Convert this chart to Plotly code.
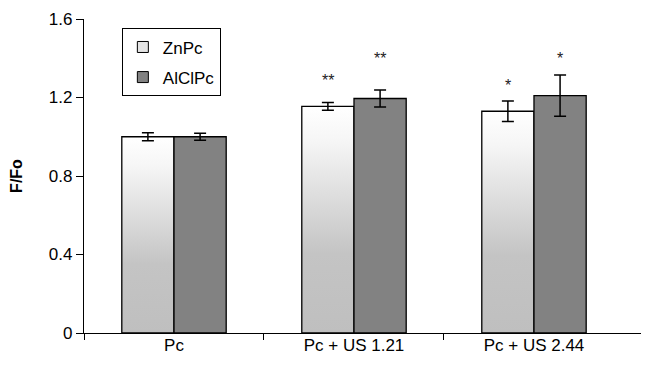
import plotly.graph_objects as go

categories = ["Pc", "Pc + US 1.21", "Pc + US 2.44"]
znpc_vals = [1.00, 1.155, 1.13]
znpc_err = [0.02, 0.02, 0.052]
alclpc_vals = [1.00, 1.195, 1.21]
alclpc_err = [0.018, 0.043, 0.105]
znpc_sig = ["", "**", "*"]
alclpc_sig = ["", "**", "*"]
znpc_sig_y = [None, 1.285, 1.26]
alclpc_sig_y = [None, 1.40, 1.40]
y_ticks = [0, 0.4, 0.8, 1.2, 1.6]
y_ticktext = ["0", "0.4", "0.8", "1.2", "1.6"]

FONT = "Liberation Sans, Arial, sans-serif"
BW = 0.29
OFF = 0.145
x_idx = list(range(len(categories)))
zn_x = [i - OFF for i in x_idx]
al_x = [i + OFF for i in x_idx]

fig = go.Figure()

# gradient fills for ZnPc bars (base subplot, drawn beneath the bar overlay)
for xc, v in zip(zn_x, znpc_vals):
    x0, x1 = xc - BW / 2, xc + BW / 2
    fig.add_trace(go.Scatter(
        x=[x0, x0, x1, x1, x0], y=[0, v, v, 0, 0], mode="none", fill="toself",
        fillgradient=dict(type="vertical",
                          colorscale=[[0, "#bfbfbf"], [0.35, "#c4c4c4"], [0.85, "#f6f6f6"], [1, "#ffffff"]]),
        showlegend=False, hoverinfo="skip", xaxis="x", yaxis="y"))

# bars (overlay subplot)
fig.add_trace(go.Bar(
    x=zn_x, y=znpc_vals, width=BW, xaxis="x2", yaxis="y2",
    marker=dict(color="rgba(0,0,0,0)", line=dict(color="black", width=1.3)),
    error_y=dict(type="data", array=znpc_err, color="black", thickness=1.5, width=6),
    showlegend=False))
fig.add_trace(go.Bar(
    x=al_x, y=alclpc_vals, width=BW, xaxis="x2", yaxis="y2",
    marker=dict(color="#828282", line=dict(color="black", width=1.3)),
    error_y=dict(type="data", array=alclpc_err, color="black", thickness=1.5, width=6),
    showlegend=False))

# legend entries
fig.add_trace(go.Scatter(x=[None], y=[None], mode="markers", name="ZnPc", legendgroup="a",
                         marker=dict(symbol="square", size=11, color="#e4e4e4", line=dict(color="black", width=1))))
fig.add_trace(go.Scatter(x=[None], y=[None], mode="markers", name="AlClPc", legendgroup="b",
                         marker=dict(symbol="square", size=11, color="#828282", line=dict(color="black", width=1))))

annotations = []
for xs, labels, ys in ((zn_x, znpc_sig, znpc_sig_y), (al_x, alclpc_sig, alclpc_sig_y)):
    for xv, t, yv in zip(xs, labels, ys):
        if t:
            annotations.append(dict(x=xv, y=yv, xref="x", yref="y", text=t, showarrow=False,
                                    font=dict(family=FONT, size=16, color="#222")))

xr = [-0.5, 2.639]
fig.update_layout(
    width=641, height=361,
    margin=dict(l=76, r=0, t=11, b=36),
    paper_bgcolor="white", plot_bgcolor="white",
    barmode="overlay",
    font=dict(family=FONT, color="black"),
    annotations=annotations,
    xaxis=dict(range=xr, tickvals=[-0.5, 0.5, 1.5], showticklabels=False, ticks="outside",
               ticklen=6, tickcolor="black", showline=True, linecolor="black", linewidth=1.3,
               showgrid=False, zeroline=False),
    yaxis=dict(range=[0, 1.6], tickvals=y_ticks, ticktext=y_ticktext, ticks="outside", ticklen=7,
               tickcolor="black", showline=True, linecolor="black", linewidth=1.3,
               showgrid=False, zeroline=False, tickfont=dict(size=17),
               title=dict(text="<b>F/Fo</b>", font=dict(size=16), standoff=23)),
    xaxis2=dict(overlaying="x", matches="x", range=xr, tickvals=x_idx, ticktext=categories,
                ticks="", showline=False, showgrid=False, zeroline=False, side="bottom",
                tickfont=dict(size=17)),
    yaxis2=dict(overlaying="y", matches="y", range=[0, 1.6], visible=False),
    legend=dict(x=0.067, y=0.970, xanchor="left", yanchor="top", bgcolor="white",
                bordercolor="black", borderwidth=1, font=dict(size=17),
                tracegroupgap=5, traceorder="grouped"),
)

fig.write_html("out.html")
